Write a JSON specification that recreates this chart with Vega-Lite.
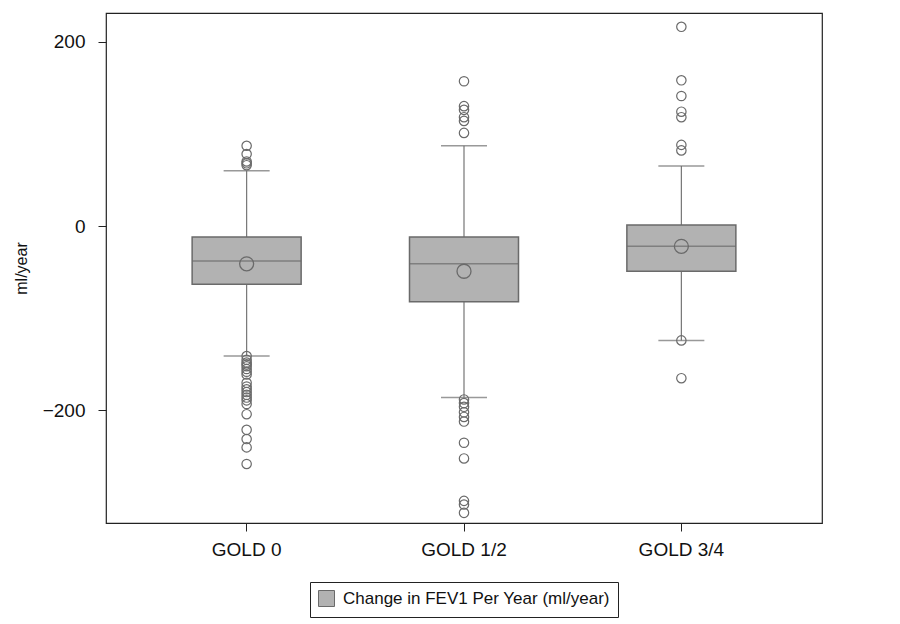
{
  "$schema": "https://vega.github.io/schema/vega-lite/v6.json",
  "width": 716,
  "height": 510,
  "autosize": {"type": "none"},
  "padding": {"left": 106, "top": 13, "right": 78, "bottom": 101},
  "background": "white",
  "config": {
    "font": "Liberation Sans",
    "view": {"stroke": "#222222", "strokeWidth": 1.2},
    "axis": {"domain": false, "grid": false, "labelFont": "Liberation Sans", "titleFont": "Liberation Sans", "labelColor": "#111111", "titleColor": "#111111", "tickColor": "#222222", "tickSize": 8, "labelFontSize": 19, "titleFontSize": 16, "titleFontWeight": "normal"}
  },
  "datasets": {
    "summary": [
      {"group": "GOLD 0", "lower": -141, "q1": -63, "median": -38, "q3": -12, "upper": 60, "mean": -41, "series": "Change in FEV1 Per Year (ml/year)"},
      {"group": "GOLD 1/2", "lower": -186, "q1": -82, "median": -41, "q3": -12, "upper": 87, "mean": -49, "series": "Change in FEV1 Per Year (ml/year)"},
      {"group": "GOLD 3/4", "lower": -124, "q1": -49, "median": -22, "q3": 1, "upper": 65, "mean": -22, "series": "Change in FEV1 Per Year (ml/year)"}
    ],
    "outliers": [
      {"group": "GOLD 0", "value": 87}, {"group": "GOLD 0", "value": 78}, {"group": "GOLD 0", "value": 70}, {"group": "GOLD 0", "value": 68}, {"group": "GOLD 0", "value": 66},
      {"group": "GOLD 0", "value": -141}, {"group": "GOLD 0", "value": -145}, {"group": "GOLD 0", "value": -148}, {"group": "GOLD 0", "value": -150}, {"group": "GOLD 0", "value": -152},
      {"group": "GOLD 0", "value": -155}, {"group": "GOLD 0", "value": -158}, {"group": "GOLD 0", "value": -161}, {"group": "GOLD 0", "value": -170}, {"group": "GOLD 0", "value": -174},
      {"group": "GOLD 0", "value": -177}, {"group": "GOLD 0", "value": -180}, {"group": "GOLD 0", "value": -183}, {"group": "GOLD 0", "value": -186}, {"group": "GOLD 0", "value": -189},
      {"group": "GOLD 0", "value": -193}, {"group": "GOLD 0", "value": -204}, {"group": "GOLD 0", "value": -221}, {"group": "GOLD 0", "value": -231}, {"group": "GOLD 0", "value": -240},
      {"group": "GOLD 0", "value": -258},
      {"group": "GOLD 1/2", "value": 157}, {"group": "GOLD 1/2", "value": 130}, {"group": "GOLD 1/2", "value": 126}, {"group": "GOLD 1/2", "value": 118}, {"group": "GOLD 1/2", "value": 114},
      {"group": "GOLD 1/2", "value": 101}, {"group": "GOLD 1/2", "value": -188}, {"group": "GOLD 1/2", "value": -192}, {"group": "GOLD 1/2", "value": -196}, {"group": "GOLD 1/2", "value": -202},
      {"group": "GOLD 1/2", "value": -207}, {"group": "GOLD 1/2", "value": -212}, {"group": "GOLD 1/2", "value": -235}, {"group": "GOLD 1/2", "value": -252}, {"group": "GOLD 1/2", "value": -298},
      {"group": "GOLD 1/2", "value": -302}, {"group": "GOLD 1/2", "value": -311},
      {"group": "GOLD 3/4", "value": 216}, {"group": "GOLD 3/4", "value": 158}, {"group": "GOLD 3/4", "value": 141}, {"group": "GOLD 3/4", "value": 124}, {"group": "GOLD 3/4", "value": 118},
      {"group": "GOLD 3/4", "value": 88}, {"group": "GOLD 3/4", "value": 82}, {"group": "GOLD 3/4", "value": -124}, {"group": "GOLD 3/4", "value": -165}
    ]
  },
  "encoding": {
    "x": {"field": "group", "type": "nominal", "sort": null,
      "scale": {"paddingInner": 0, "paddingOuter": 0.147},
      "axis": {"title": null, "labelAngle": 0, "labelPadding": 9}}
  },
  "layer": [
    {
      "data": {"name": "summary"},
      "mark": {"type": "rule", "color": "#767676", "strokeWidth": 1.2},
      "encoding": {
        "y": {"field": "lower", "type": "quantitative",
          "scale": {"domain": [-322, 231], "nice": false, "zero": false},
          "axis": {"title": "ml/year", "values": [-200, 0, 200], "titlePadding": 13, "labelPadding": 13}},
        "y2": {"field": "upper"}
      }
    },
    {
      "data": {"name": "summary"},
      "mark": {"type": "tick", "color": "#6e6e6e", "size": 46, "thickness": 1.5},
      "encoding": {"y": {"field": "upper", "type": "quantitative"}}
    },
    {
      "data": {"name": "summary"},
      "mark": {"type": "tick", "color": "#6e6e6e", "size": 46, "thickness": 1.5},
      "encoding": {"y": {"field": "lower", "type": "quantitative"}}
    },
    {
      "data": {"name": "summary"},
      "mark": {"type": "bar", "width": 109, "stroke": "#6a6a6a", "strokeWidth": 1.5},
      "encoding": {
        "y": {"field": "q1", "type": "quantitative"},
        "y2": {"field": "q3"},
        "color": {"field": "series", "type": "nominal",
          "scale": {"range": ["#b2b2b2"]},
          "legend": {"title": null, "orient": "none", "legendX": 204, "legendY": 569, "symbolType": "square", "symbolSize": 256,
            "symbolStrokeColor": "#6a6a6a", "symbolStrokeWidth": 1, "symbolFillColor": "#b2b2b2", "labelOffset": 8,
            "labelFontSize": 17, "labelFont": "Liberation Sans", "labelColor": "#111111",
            "strokeColor": "#222222", "padding": 8, "labelLimit": 400}}
      }
    },
    {
      "data": {"name": "summary"},
      "mark": {"type": "tick", "color": "#6a6a6a", "size": 109, "thickness": 1.5},
      "encoding": {"y": {"field": "median", "type": "quantitative"}}
    },
    {
      "data": {"name": "summary"},
      "mark": {"type": "point", "shape": "circle", "filled": false, "size": 196, "stroke": "#6a6a6a", "strokeWidth": 1.3, "opacity": 1},
      "encoding": {"y": {"field": "mean", "type": "quantitative"}}
    },
    {
      "data": {"name": "outliers"},
      "mark": {"type": "point", "shape": "circle", "filled": false, "size": 88, "stroke": "#6a6a6a", "strokeWidth": 1.2, "opacity": 1},
      "encoding": {"y": {"field": "value", "type": "quantitative"}}
    }
  ]
}
